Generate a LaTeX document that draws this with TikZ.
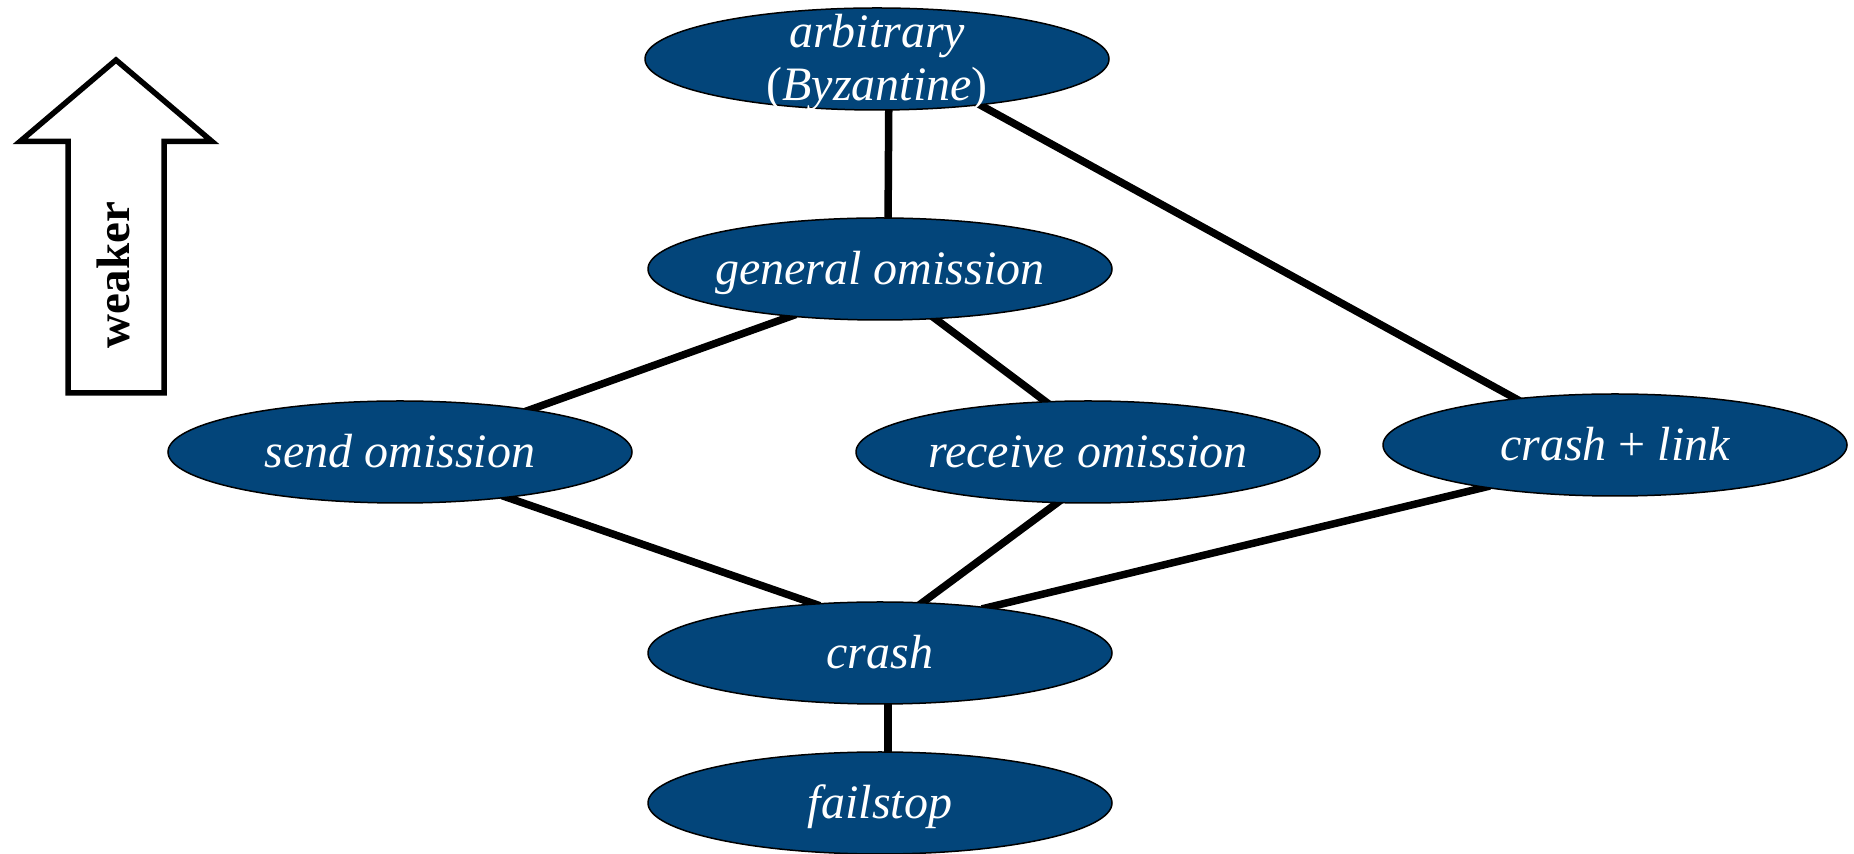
\documentclass[tikz,border=0pt]{standalone}
\usepackage{fontspec}
\setmainfont{Liberation Serif}
\usetikzlibrary{shapes.geometric,backgrounds}
\definecolor{ovalblue}{RGB}{3,69,122}
\begin{document}
\begin{tikzpicture}[x=1bp,y=1bp,
  oval/.style={ellipse, draw=black, line width=1.5bp, fill=ovalblue,
    minimum width=464bp, minimum height=102bp, inner sep=0pt, outer sep=0pt},
  ovaltext/.style={text=white, inner sep=0pt, align=center,
    font=\fontsize{48bp}{53bp}\selectfont\itshape},
  oneline/.style={ovaltext, text height=32bp, text depth=0pt},
  edge/.style={line width=7.5bp, shorten <=-5bp, shorten >=-5bp},
  bigarrow/.style={line width=5.5bp, miter limit=10}]
\useasboundingbox (0,0) rectangle (1854,854);

% failure models
\node[oval, label={[ovaltext, yshift=-4bp]center:arbitrary\\\textup{(}Byzantine\textup{)}}] (arb) at (877,795) {};
\node[oval, label={[oneline]center:general omission}] (gen) at (880,585) {};
\node[oval, label={[oneline]center:send omission}] (send) at (400,402) {};
\node[oval, label={[oneline]center:receive omission}] (recv) at (1088,402) {};
\node[oval, label={[oneline]center:crash \textup{+} link}] (clink) at (1615,409) {};
\node[oval, label={[oneline]center:crash}] (crash) at (880,201) {};
\node[oval, label={[oneline]center:failstop}] (fstop) at (880,51) {};

% order relation, drawn beneath the ovals
\begin{scope}[on background layer]
  \draw[edge] (arb.-77.8) -- (gen.81.1);
  \draw[edge] (arb.-24.3) -- (clink.155.4);
  \draw[edge] (gen.208.1) -- (send.18.7);
  \draw[edge] (gen.-42.8) -- (recv.130.7);
  \draw[edge] (send.-23.5) -- (crash.143.3);
  \draw[edge] (recv.-121.6) -- (crash.50);
  \draw[edge] (clink.198.2) -- (crash.23);
  \draw[edge] (crash.-81.1) -- (fstop.81.1);
\end{scope}

% "weaker" direction arrow
\draw[bigarrow] (116,794) -- (212,712.5) -- (164,712.5) -- (164,461)
  -- (68,461) -- (68,712.5) -- (20,712.5) -- cycle;
\node[rotate=90, inner sep=0pt, font=\fontsize{47bp}{53bp}\selectfont\bfseries]
  (weaker) at (113,579) {weaker};
\end{tikzpicture}
\end{document}
